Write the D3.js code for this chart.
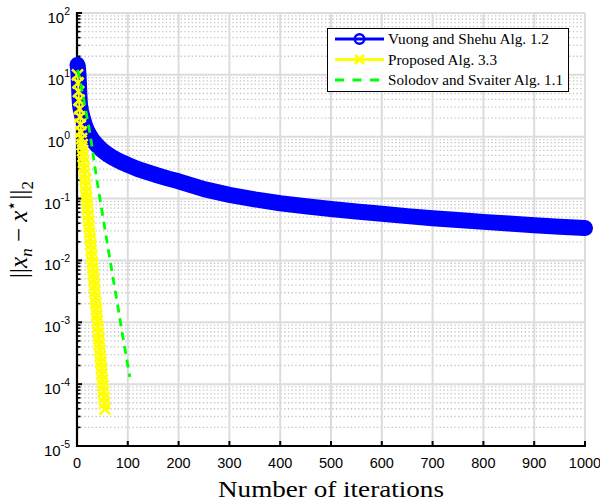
<!DOCTYPE html>
<html>
<head>
<meta charset="utf-8">
<script src="https://cdn.jsdelivr.net/npm/d3@7/dist/d3.min.js"></script>
<style>
  html, body { margin: 0; padding: 0; background: #fff; }
  svg { display: block; }
</style>
</head>
<body>
<svg id="chart" width="600" height="504"></svg>
<script>
// ---------------- data ----------------
const seriesNames = ["Vuong and Shehu Alg. 1.2", "Proposed Alg. 3.3", "Solodov and Svaiter Alg. 1.1"];

const vuongIter = [1,2,3,4,5,6,8,10,13,16,20,25,30,35,40,50,60,70,80,90,100,120,140,160,180,200,250,300,350,400,450,500,550,600,650,700,750,800,850,900,950,1000];
const vuongVal  = [14.5,13,10,6.5,4.2,3.2,2.6,2.2,1.8,1.5,1.25,1.05,0.9,0.8,0.72,0.6,0.52,0.46,0.415,0.38,0.35,0.30,0.265,0.235,0.21,0.19,0.142,0.115,0.097,0.084,0.075,0.068,0.062,0.057,0.052,0.048,0.045,0.042,0.0395,0.037,0.035,0.0334];

// Proposed Alg. 3.3 (iterations 1..55)
const proposedVal = [10,7.41,5.37,3.89,2.82,2.09,1.58,1.20,0.933,0.741,
  0.596,0.479,0.385,0.309,0.248,0.200,0.160,0.129,0.104,0.0832,
  0.0668,0.0537,0.0432,0.0347,0.0279,0.0224,0.0180,0.0145,0.0116,0.00933,
  0.00750,0.00603,0.00484,0.00389,0.00313,0.00251,0.00202,0.00162,0.00130,0.00105,
  0.000841,0.000676,0.000543,0.000437,0.000351,0.000282,0.000226,0.000182,0.000146,0.000117,
  0.0000944,0.0000759,0.0000610,0.0000490,0.0000394];

// Solodov and Svaiter Alg. 1.1
const solodovIter = [1,5,10,15,20,25,30,35,40,50,60,70,80,90,100,104];
const solodovVal  = [12,9,5.5,3.3,2.0,1.2,0.66,0.33,0.18,0.057,0.018,0.0058,0.0019,0.0006,0.0002,0.00013];

const xTickValues = [0,100,200,300,400,500,600,700,800,900,1000];
const yTickExponents = [-5,-4,-3,-2,-1,0,1,2];
const xLabelText = "Number of iterations";

// ---------------- layout ----------------
const svg = d3.select("#chart");
const L = 77, R = 585, T = 13, B = 446;
const x = d3.scaleLinear().domain([0, 1000]).range([L, R]);
const y = d3.scaleLog().domain([1e-5, 1e2]).range([B, T]);

const blue = "#0000ff", yellow = "#ffff00", green = "#00ff00";

// ---------------- grid ----------------
const grid = svg.append("g");
// minor y grid (log minor)
const yMinor = [];
yTickExponents.slice(0, -1).forEach(e => { for (let k = 2; k <= 9; k++) yMinor.push(k * Math.pow(10, e)); });
grid.selectAll(".ym").data(yMinor).enter().append("line")
  .attr("x1", L).attr("x2", R).attr("y1", d => y(d)).attr("y2", d => y(d))
  .attr("stroke", "#c4c4c4").attr("stroke-width", 1.3).attr("stroke-dasharray", "1.3,2.4");
// major grid
grid.selectAll(".xM").data(xTickValues).enter().append("line")
  .attr("x1", d => x(d)).attr("x2", d => x(d)).attr("y1", T).attr("y2", B)
  .attr("stroke", "#dcdcdc").attr("stroke-width", 2);
grid.selectAll(".yM").data(yTickExponents).enter().append("line")
  .attr("x1", L).attr("x2", R).attr("y1", d => y(Math.pow(10, d))).attr("y2", d => y(Math.pow(10, d)))
  .attr("stroke", "#dcdcdc").attr("stroke-width", 2);

// ---------------- axes ----------------
const axes = svg.append("g");
axes.append("line").attr("x1", L).attr("x2", L).attr("y1", T - 1).attr("y2", B + 1)
  .attr("stroke", "#000").attr("stroke-width", 2.2);
axes.append("line").attr("x1", L - 1).attr("x2", R + 1).attr("y1", B).attr("y2", B)
  .attr("stroke", "#000").attr("stroke-width", 2.2);
// x ticks (inward)
axes.selectAll(".xt").data(xTickValues).enter().append("line")
  .attr("x1", d => x(d)).attr("x2", d => x(d)).attr("y1", B).attr("y2", B - 5)
  .attr("stroke", "#000").attr("stroke-width", 2);
// y major ticks
axes.selectAll(".yt").data(yTickExponents).enter().append("line")
  .attr("x1", L).attr("x2", L + 5).attr("y1", d => y(Math.pow(10, d))).attr("y2", d => y(Math.pow(10, d)))
  .attr("stroke", "#000").attr("stroke-width", 2);
// y minor ticks
axes.selectAll(".ymt").data(yMinor).enter().append("line")
  .attr("x1", L).attr("x2", L + 3.5).attr("y1", d => y(d)).attr("y2", d => y(d))
  .attr("stroke", "#000").attr("stroke-width", 1.6);

// x tick labels
axes.selectAll(".xl").data(xTickValues).enter().append("text")
  .attr("x", d => x(d)).attr("y", B + 22)
  .attr("text-anchor", "middle")
  .attr("font-family", "Liberation Sans, Arial, sans-serif").attr("font-size", 14.5)
  .text(d => d);
// y tick labels 10^e
const yl = axes.selectAll(".yl").data(yTickExponents).enter().append("text")
  .attr("x", 70).attr("y", d => y(Math.pow(10, d)) + 10)
  .attr("text-anchor", "end")
  .attr("font-family", "Liberation Sans, Arial, sans-serif").attr("font-size", 15);
yl.append("tspan").text("10");
yl.append("tspan").attr("dy", -8).attr("font-size", 10.5).text(d => d);

// axis labels
const serif = "Liberation Serif, Times New Roman, serif";
svg.append("text").attr("x", (L + R) / 2).attr("y", 497)
  .attr("text-anchor", "middle").attr("font-family", serif).attr("font-size", 24)
  .attr("textLength", 226).attr("lengthAdjust", "spacingAndGlyphs")
  .text(xLabelText);

const ylab = svg.append("text")
  .attr("transform", `translate(27,${(T + B) / 2}) rotate(-90)`)
  .attr("text-anchor", "middle").attr("font-family", serif).attr("font-size", 25);
ylab.append("tspan").text("||");
ylab.append("tspan").attr("font-style", "italic").text("x");
ylab.append("tspan").attr("font-style", "italic").attr("font-size", 17).attr("dy", 5).text("n");
ylab.append("tspan").attr("dy", -5).text(" − ");
ylab.append("tspan").attr("font-style", "italic").text("x");
ylab.append("tspan").attr("font-size", 17).attr("dy", -10).text("⋆");
ylab.append("tspan").attr("dy", 10).text("||");
ylab.append("tspan").attr("font-size", 17).attr("dy", 6).text("2");

// ---------------- series ----------------
const vuong = vuongIter.map((n, i) => [n, vuongVal[i]]);
const proposed = proposedVal.map((v, i) => [i + 1, v]);
const solodov = solodovIter.map((n, i) => [n, solodovVal[i]]);
const line = d3.line().x(d => x(d[0])).y(d => y(d[1]));

const plot = svg.append("g");
// Vuong: dense circle markers form a solid band
plot.append("path").datum(vuong).attr("d", line)
  .attr("fill", "none").attr("stroke", blue).attr("stroke-width", 16)
  .attr("stroke-linecap", "round").attr("stroke-linejoin", "round");

// Proposed: line + x markers
plot.append("path").datum(proposed).attr("d", line)
  .attr("fill", "none").attr("stroke", yellow).attr("stroke-width", 2);
const ms = 5.5;
plot.selectAll(".pm").data(proposed).enter().append("path")
  .attr("d", d => {
    const cx = x(d[0]), cy = y(d[1]);
    return `M${cx - ms},${cy - ms}L${cx + ms},${cy + ms}M${cx - ms},${cy + ms}L${cx + ms},${cy - ms}`;
  })
  .attr("stroke", yellow).attr("stroke-width", 2.6).attr("fill", "none");

// Solodov: dashed
plot.append("path").datum(solodov).attr("d", line)
  .attr("fill", "none").attr("stroke", green).attr("stroke-width", 2.8)
  .attr("stroke-dasharray", "8,6");

// ---------------- legend ----------------
const lg = svg.append("g");
lg.append("rect").attr("x", 327.5).attr("y", 28.5).attr("width", 241).attr("height", 63)
  .attr("fill", "#fff").attr("stroke", "#000").attr("stroke-width", 1);
const rowsY = [39, 59.5, 80];
const textLens = [161, 109, 175];
seriesNames.forEach((name, i) => {
  const ry = rowsY[i];
  const ln = lg.append("line").attr("x1", 335).attr("x2", 384).attr("y1", ry).attr("y2", ry)
    .attr("stroke", [blue, yellow, green][i]).attr("stroke-width", 3);
  if (i === 2) ln.attr("stroke-dasharray", "9,8.5").attr("stroke-width", 3);
  if (i === 0) {
    lg.append("circle").attr("cx", 359.5).attr("cy", ry).attr("r", 4.8)
      .attr("fill", "none").attr("stroke", blue).attr("stroke-width", 2.5);
  }
  if (i === 1) {
    const s = 4.5;
    lg.append("path").attr("d", `M${359.5 - s},${ry - s}L${359.5 + s},${ry + s}M${359.5 - s},${ry + s}L${359.5 + s},${ry - s}`)
      .attr("stroke", yellow).attr("stroke-width", 2.5);
  }
  lg.append("text").attr("x", 388).attr("y", ry + 5)
    .attr("font-family", serif).attr("font-size", 15)
    .attr("textLength", textLens[i]).attr("lengthAdjust", "spacingAndGlyphs")
    .text(name);
});
</script>
</body>
</html>
